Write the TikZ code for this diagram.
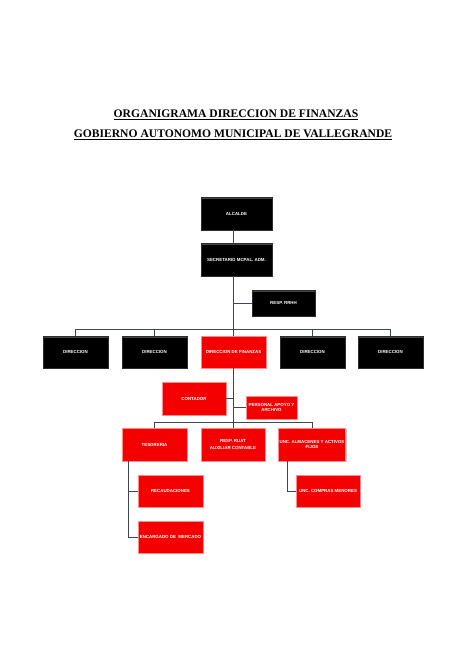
\documentclass[tikz,border=0pt]{standalone}
\usepackage{fontspec}
\setmainfont{Liberation Serif}
\newfontfamily\boxfont{Liberation Sans}
\usetikzlibrary{shadows}
\definecolor{linegray}{HTML}{3E4656}
\definecolor{boxred}{HTML}{F40000}
\tikzset{
  x=1pt, y=-1pt,
  orgbox/.style={minimum width=#1, inner sep=1pt, align=center,
    text=white, font=\boxfont\bfseries\fontsize{4.4}{5.4}\selectfont,
    drop shadow={shadow xshift=1.2pt, shadow yshift=-1.2pt, fill=gray!45, opacity=1}},
  blackbox/.style={orgbox=#1, fill=black, draw=gray!35!black, line width=0.4pt,
    path picture={\fill[gray!55!black] (path picture bounding box.north west) rectangle ([yshift=-1.6pt]path picture bounding box.north east);}},
  redbox/.style={orgbox=#1, fill=boxred, draw=red!45!white, line width=0.5pt},
  conn/.style={draw=linegray, line width=0.9pt},
  titletext/.style={font=\bfseries\fontsize{11.6}{13.6}\selectfont}
}
\begin{document}
\begin{tikzpicture}
\useasboundingbox (0,0) rectangle (474,651);
% titles
\node[titletext] (t1) at (236,115) {\underline{ORGANIGRAMA DIRECCION DE FINANZAS}};
\node[titletext] (t2) at (233,135) {\underline{GOBIERNO AUTONOMO MUNICIPAL DE VALLEGRANDE}};
% bus coordinates
\coordinate (busl) at (75.5,329);
\coordinate (busr) at (390.5,329);
\coordinate (bus2l) at (154.5,422);
\coordinate (bus2r) at (312,422);
% boxes
\node[blackbox=71pt, minimum height=33pt] (alc) at (236.5,213.5) {ALCALDE};
\node[blackbox=71pt, minimum height=33pt] (sec) at (236.5,259.5) {SECRETARIO MCPAL. ADM.};
\node[blackbox=63pt, minimum height=26pt] (rrhh) at (283.5,303) {RESP. RRHH};
\node[blackbox=65pt, minimum height=32pt] (d1) at (75.5,352) {DIRECCION};
\node[blackbox=65pt, minimum height=32pt] (d2) at (154.5,352) {DIRECCION};
\node[redbox=65pt, minimum height=32pt] (d3) at (233.5,352) {DIRECCION DE FINANZAS};
\node[blackbox=65pt, minimum height=32pt] (d4) at (312.5,352) {DIRECCION};
\node[blackbox=65pt, minimum height=32pt] (d5) at (390.5,352) {DIRECCION};
\node[redbox=64pt, minimum height=33pt] (cont) at (194,398.5) {CONTADOR};
\node[redbox=51pt, minimum height=23pt] (pers) at (271.5,407.5) {PERSONAL APOYO Y\\ARCHIVO};
\node[redbox=65pt, minimum height=33pt] (tes) at (154.5,444.5) {TESORERIA};
\node[redbox=64pt, minimum height=33pt] (ruat) at (233,444.5) {RESP. RUAT\\[1pt]AUXILIAR CONTABLE};
\node[redbox=64pt, minimum height=33pt] (unc) at (312,444.5) {UNC. ALMACENES Y ACTIVOS\\FIJOS};
\node[redbox=65pt, minimum height=32pt] (rec) at (170.5,491) {RECAUDACIONES};
\node[redbox=65pt, minimum height=32pt] (merc) at (170.5,537) {ENCARGADO DE \ MERCADO};
\node[redbox=64pt, minimum height=32pt] (comp) at (328,491) {UNC. COMPRAS MENORES};
% connectors
\draw[conn] (alc.south -| 233,0) -- (sec.north -| 233,0);
\draw[conn] (sec.south -| 233,0) -- (d3.north -| 233,0);
\draw[conn] (233,0 |- rrhh.west) -- (rrhh.west);
\draw[conn] (busl) -- (busr);
\draw[conn] (busl) -- (d1.north);
\draw[conn] (d2.north |- busl) -- (d2.north);
\draw[conn] (d4.north |- busl) -- (d4.north);
\draw[conn] (busr) -- (d5.north);
\draw[conn] (d3.south -| 233,0) -- (233,422);
\draw[conn] (cont.east) -- (233,0 |- cont.east);
\draw[conn] (233,0 |- pers.west) -- (pers.west);
\draw[conn] (bus2l) -- (bus2r);
\draw[conn] (bus2l) -- (tes.north);
\draw[conn] (ruat.north |- bus2l) -- (ruat.north);
\draw[conn] (bus2r) -- (unc.north);
\draw[conn] (tes.south -| 128,0) -- (128,0 |- merc.west) -- (merc.west);
\draw[conn] (128,0 |- rec.west) -- (rec.west);
\draw[conn] (unc.south -| 287,0) -- (287,0 |- comp.west) -- (comp.west);
\end{tikzpicture}
\end{document}
